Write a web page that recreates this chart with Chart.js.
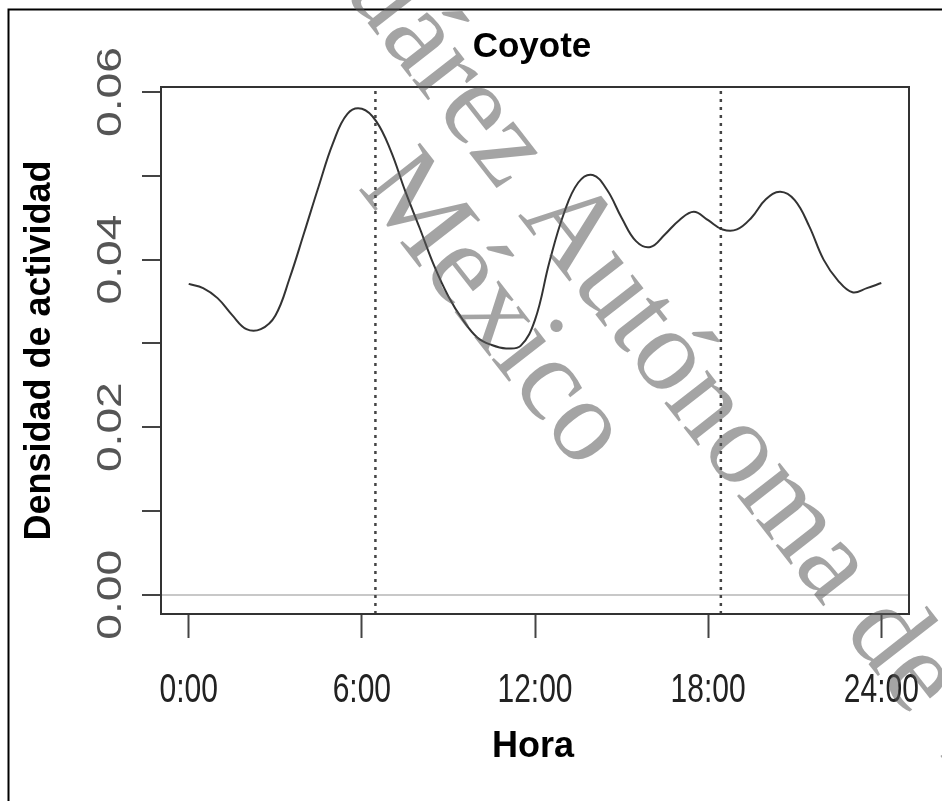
<!DOCTYPE html>
<html>
<head>
<meta charset="utf-8">
<title>Coyote</title>
<script src="https://cdn.jsdelivr.net/npm/chart.js@4.4.1/dist/chart.umd.min.js"></script>
<style>
    html, body { margin: 0; padding: 0; background: #fff; }
    canvas { display: block; }
</style>
</head>
<body>
<canvas id="coyoteChart" width="942" height="801"></canvas>
<script>
const chartTitle = 'Coyote';
const xAxisTitle = 'Hora';
const yAxisTitle = 'Densidad de actividad';

// hora del día y densidad de actividad
const hours = [0, 0.5, 1, 1.5, 2, 2.5, 3, 3.5, 4, 4.5, 5, 5.5, 6, 6.5, 7, 7.5, 8, 8.5, 9, 9.5,
    10, 10.5, 11, 11.5, 12, 12.5, 13, 13.5, 14, 14.5, 15, 15.5, 16, 16.5, 17, 17.5, 18, 18.5, 19, 19.5,
    20, 20.5, 21, 21.5, 22, 22.5, 23, 23.5, 24];
const density = [0.0371, 0.0366, 0.0354, 0.0334, 0.0317, 0.0317, 0.0333, 0.0378, 0.0432, 0.0487,
    0.0539, 0.0574, 0.0580, 0.0565, 0.0530, 0.0482, 0.0438, 0.0393, 0.0356, 0.0328,
    0.0307, 0.0298, 0.0294, 0.0297, 0.0328, 0.0397, 0.0455, 0.0492, 0.0501, 0.0483,
    0.0450, 0.0422, 0.0415, 0.0430, 0.0447, 0.0457, 0.0447, 0.0436, 0.0436, 0.0450,
    0.0472, 0.0481, 0.0471, 0.0440, 0.0400, 0.0375, 0.0361, 0.0366, 0.0372];

// salida y puesta del sol
const sunTimes = [6.47, 18.44];

const xTickValues = [0, 6, 12, 18, 24];
const xTickLabels = ['0:00', '6:00', '12:00', '18:00', '24:00'];
const yTickValues = [0, 0.01, 0.02, 0.03, 0.04, 0.05, 0.06];
const yLabelValues = [0, 0.02, 0.04, 0.06];
const yLabelTexts = ['0.00', '0.02', '0.04', '0.06'];

const watermarkLines = ['Universidad Juárez Autónoma de Tabasco', 'México'];

const xMin = -0.96, xMax = 24.96;
const yMin = -0.0023, yMax = 0.0606;

const sans = '"Liberation Sans", Arial, Helvetica, sans-serif';

const decorPlugin = {
    id: 'decor',
    beforeDraw(chart) {
        const ctx = chart.ctx;
        ctx.save();
        ctx.strokeStyle = '#000';
        ctx.lineWidth = 2;
        ctx.beginPath();
        ctx.moveTo(8.5, 801);
        ctx.lineTo(8.5, 9.5);
        ctx.lineTo(942, 9.5);
        ctx.stroke();
        ctx.restore();
    },
    afterDraw(chart) {
        const { ctx, chartArea: a, scales: { x, y } } = chart;
        const cx = (a.left + a.right) / 2;
        ctx.save();

        // caja del gráfico
        ctx.strokeStyle = '#333';
        ctx.lineWidth = 2;
        ctx.strokeRect(a.left, a.top, a.right - a.left, a.bottom - a.top);

        // títulos
        ctx.fillStyle = '#000';
        ctx.textAlign = 'center';
        ctx.textBaseline = 'alphabetic';
        ctx.font = 'bold 35px ' + sans;
        ctx.fillText(chartTitle, cx - 3, 57);
        ctx.font = 'bold 36px ' + sans;
        ctx.fillText(xAxisTitle, cx - 2, 757);
        ctx.save();
        ctx.translate(50, (a.top + a.bottom) / 2);
        ctx.rotate(-Math.PI / 2);
        ctx.fillText(yAxisTitle, 0, 0);
        ctx.restore();

        // etiquetas del eje x
        ctx.fillStyle = '#222';
        ctx.font = '30px ' + sans;
        xTickValues.forEach((v, i) => {
            ctx.save();
            ctx.translate(x.getPixelForValue(v), 702);
            ctx.scale(1, 1.37);
            ctx.fillText(xTickLabels[i], 0, 0);
            ctx.restore();
        });

        // etiquetas del eje y
        ctx.fillStyle = '#555';
        ctx.font = '35px ' + sans;
        yLabelValues.forEach((v, i) => {
            ctx.save();
            ctx.translate(120.5, y.getPixelForValue(v));
            ctx.rotate(-Math.PI / 2);
            ctx.scale(1.32, 1);
            ctx.fillText(yLabelTexts[i], 0, 0);
            ctx.restore();
        });

        // marca de agua
        ctx.save();
        ctx.rotate(52 * Math.PI / 180);
        ctx.fillStyle = 'rgba(90, 90, 90, 0.55)';
        ctx.font = '118px "Liberation Serif", "Times New Roman", serif';
        ctx.textAlign = 'left';
        const before = ctx.measureText('Universidad Juárez ').width;
        ctx.fillText(watermarkLines[0], 488 - before, -275.5);
        ctx.fillText(watermarkLines[1], 367.5, -166);
        ctx.restore();

        ctx.restore();
    }
};

new Chart(document.getElementById('coyoteChart'), {
    type: 'line',
    data: {
        datasets: [
            {
                label: 'Coyote',
                data: hours.map((h, i) => ({ x: h, y: density[i] })),
                borderColor: '#333',
                borderWidth: 2,
                pointRadius: 0,
                tension: 0.4,
                fill: false
            },
            ...sunTimes.map(t => ({
                label: 'sol',
                data: [{ x: t, y: yMin }, { x: t, y: yMax }],
                borderColor: '#444',
                borderWidth: 2.5,
                borderDash: [3, 5],
                pointRadius: 0,
                fill: false
            }))
        ]
    },
    options: {
        responsive: false,
        animation: false,
        devicePixelRatio: 1,
        layout: { padding: { top: 87, right: 33, left: 0, bottom: 0 } },
        plugins: {
            legend: { display: false },
            tooltip: { enabled: false },
            title: { display: false }
        },
        scales: {
            x: {
                type: 'linear',
                min: xMin,
                max: xMax,
                border: { display: false },
                grid: {
                    drawOnChartArea: false,
                    tickLength: 24,
                    tickColor: '#444',
                    tickWidth: 2
                },
                ticks: { display: false },
                afterBuildTicks: scale => { scale.ticks = xTickValues.map(v => ({ value: v })); },
                afterFit: scale => { scale.height = 187; }
            },
            y: {
                type: 'linear',
                min: yMin,
                max: yMax,
                border: { display: false },
                grid: {
                    color: c => (c.tick && c.tick.value === 0 ? '#c8c8c8' : 'rgba(0,0,0,0)'),
                    lineWidth: 2,
                    tickLength: 19,
                    tickColor: '#444',
                    tickWidth: 2
                },
                ticks: { display: false },
                afterBuildTicks: scale => { scale.ticks = yTickValues.map(v => ({ value: v })); },
                afterFit: scale => { scale.width = 161; }
            }
        }
    },
    plugins: [decorPlugin]
});
</script>
</body>
</html>
